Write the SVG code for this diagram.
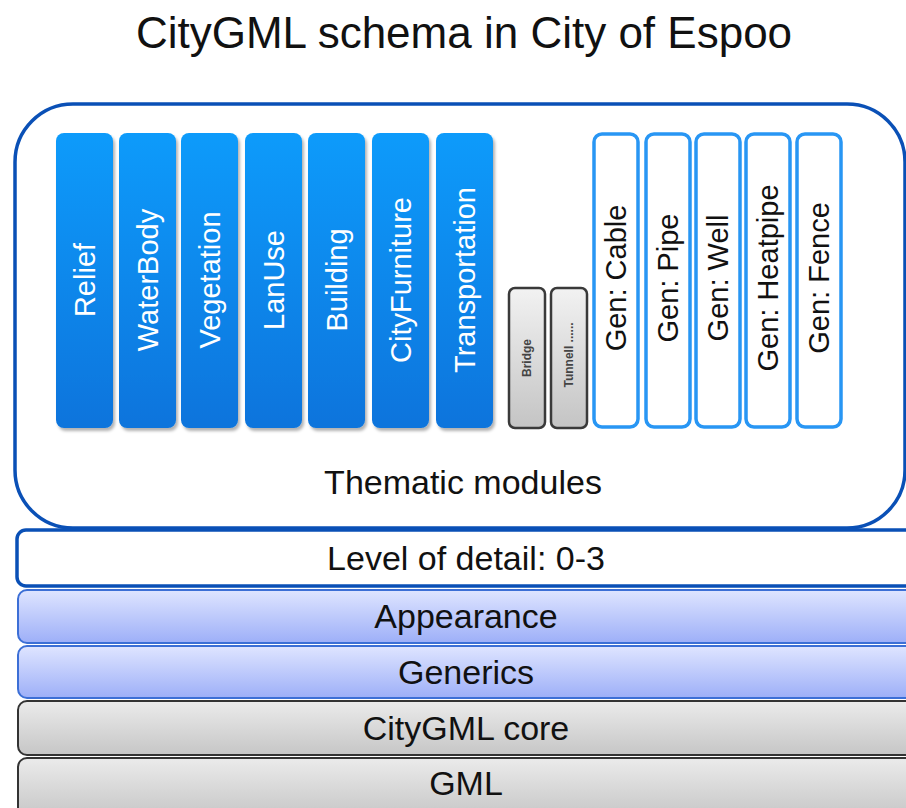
<svg xmlns="http://www.w3.org/2000/svg" width="906" height="808" viewBox="0 0 906 808">
<defs>
  <linearGradient id="gBlue" x1="0" y1="0" x2="0" y2="1">
    <stop offset="0" stop-color="#0a9bfb"/>
    <stop offset="1" stop-color="#0a74dc"/>
  </linearGradient>
  <linearGradient id="gGrayBar" x1="0" y1="0" x2="0" y2="1">
    <stop offset="0" stop-color="#f2f2f2"/>
    <stop offset="1" stop-color="#c4c4c4"/>
  </linearGradient>
  <linearGradient id="gLilac" x1="0" y1="0" x2="0" y2="1">
    <stop offset="0" stop-color="#dfe5ff"/>
    <stop offset="1" stop-color="#9daff8"/>
  </linearGradient>
  <linearGradient id="gGray" x1="0" y1="0" x2="0" y2="1">
    <stop offset="0" stop-color="#ebebeb"/>
    <stop offset="1" stop-color="#c6c6c6"/>
  </linearGradient>
  <filter id="shadow" x="-20%" y="-5%" width="150%" height="115%">
    <feDropShadow dx="2" dy="3" stdDeviation="1.8" flood-color="#000" flood-opacity="0.3"/>
  </filter>
</defs>
<style>
  text { font-family: "Liberation Sans", Arial, sans-serif; }
  .title { font-size: 44px; fill: #111; }
  .frame { fill: #fff; stroke: #0a50b6; stroke-width: 3.5; }
  .bar { fill: url(#gBlue); filter: url(#shadow); }
  .barText { font-size: 29px; fill: #fff; text-anchor: middle; }
  .gbar { fill: url(#gGrayBar); stroke: #3a3a3a; stroke-width: 2.5; }
  .gbarText { font-size: 12px; font-weight: bold; fill: #444; text-anchor: middle; }
  .gen { fill: #fff; stroke: #2896f4; stroke-width: 3.5; }
  .genText { font-size: 29px; fill: #111; text-anchor: middle; }
  .layerText { font-size: 34px; fill: #111; text-anchor: middle; }
  .lod { fill: #fff; stroke: #0a50b6; stroke-width: 3.5; }
  .lilac { fill: url(#gLilac); stroke: #3c6fd6; stroke-width: 2; }
  .gray { fill: url(#gGray); stroke: #333; stroke-width: 2; }
</style>

<text class="title" x="464" y="48" text-anchor="middle">CityGML schema in City of Espoo</text>

<g id="thematic-modules">
  <rect class="frame" x="15" y="104" width="890" height="424" rx="58" ry="58"/>
  <text class="layerText" x="463" y="494">Thematic modules</text>
</g>

<g id="relief"><rect class="bar" x="56" y="133" width="57" height="295" rx="8"/><text class="barText" transform="translate(94.5,280) rotate(-90)">Relief</text></g>
<g id="waterbody"><rect class="bar" x="119" y="133" width="57" height="295" rx="8"/><text class="barText" transform="translate(157.5,280) rotate(-90)">WaterBody</text></g>
<g id="vegetation"><rect class="bar" x="181" y="133" width="57" height="295" rx="8"/><text class="barText" transform="translate(219.5,280) rotate(-90)">Vegetation</text></g>
<g id="lanuse"><rect class="bar" x="245" y="133" width="57" height="295" rx="8"/><text class="barText" transform="translate(283.5,280) rotate(-90)">LanUse</text></g>
<g id="building"><rect class="bar" x="308" y="133" width="57" height="295" rx="8"/><text class="barText" transform="translate(346.5,280) rotate(-90)">Building</text></g>
<g id="cityfurniture"><rect class="bar" x="372" y="133" width="57" height="295" rx="8"/><text class="barText" transform="translate(410.5,280) rotate(-90)">CityFurniture</text></g>
<g id="transportation"><rect class="bar" x="436" y="133" width="57" height="295" rx="8"/><text class="barText" transform="translate(474.5,280) rotate(-90)">Transportation</text></g>

<g id="bridge"><rect class="gbar" x="509" y="288" width="36" height="140" rx="6"/><text class="gbarText" transform="translate(531,358) rotate(-90)">Bridge</text></g>
<g id="tunnel"><rect class="gbar" x="551" y="288" width="36" height="140" rx="6"/><text class="gbarText" transform="translate(573,355) rotate(-90)">Tunnell ......</text></g>

<g id="gen-cable"><rect class="gen" x="594" y="134" width="44" height="293" rx="8"/><text class="genText" transform="translate(626,278) rotate(-90)">Gen: Cable</text></g>
<g id="gen-pipe"><rect class="gen" x="646" y="134" width="44" height="293" rx="8"/><text class="genText" transform="translate(678,278) rotate(-90)">Gen: Pipe</text></g>
<g id="gen-well"><rect class="gen" x="696" y="134" width="44" height="293" rx="8"/><text class="genText" transform="translate(728,278) rotate(-90)">Gen: Well</text></g>
<g id="gen-heatpipe"><rect class="gen" x="746" y="134" width="44" height="293" rx="8"/><text class="genText" transform="translate(778,278) rotate(-90)">Gen: Heatpipe</text></g>
<g id="gen-fence"><rect class="gen" x="797" y="134" width="44" height="293" rx="8"/><text class="genText" transform="translate(829,278) rotate(-90)">Gen: Fence</text></g>

<g id="level-of-detail"><rect class="lod" x="17" y="530" width="905" height="56" rx="9"/><text class="layerText" x="466" y="570">Level of detail: 0-3</text></g>
<g id="appearance"><rect class="lilac" x="18" y="590" width="905" height="53" rx="9"/><text class="layerText" x="466" y="628">Appearance</text></g>
<g id="generics"><rect class="lilac" x="18" y="646" width="905" height="52" rx="9"/><text class="layerText" x="466" y="684">Generics</text></g>
<g id="citygml-core"><rect class="gray" x="18" y="701" width="905" height="54" rx="9"/><text class="layerText" x="466" y="740">CityGML core</text></g>
<g id="gml"><rect class="gray" x="18" y="758" width="905" height="60" rx="9"/><text class="layerText" x="466" y="795">GML</text></g>

<g id="connectors"/>
</svg>
